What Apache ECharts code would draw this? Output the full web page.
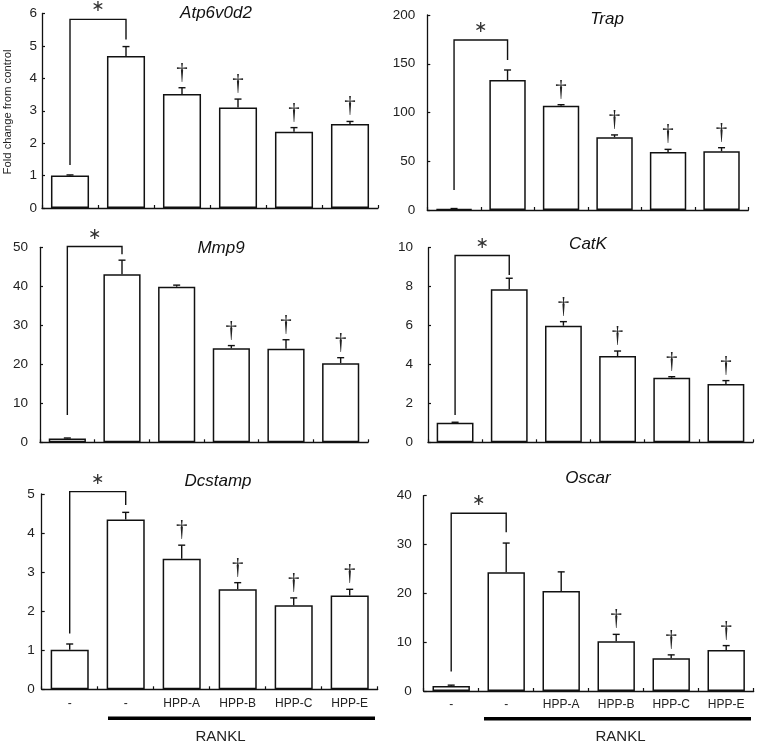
<!DOCTYPE html>
<html><head><meta charset="utf-8">
<script src="https://cdn.jsdelivr.net/npm/echarts@6/dist/echarts.min.js"></script>
<style>html,body{margin:0;padding:0;background:#fff}#c{width:758px;height:743px}</style>
</head><body><div id="c"></div>
<script>
// ---------- data ----------
const categories = ['-', '-', 'HPP-A', 'HPP-B', 'HPP-C', 'HPP-E'];
const genes = ['Atp6v0d2', 'Trap', 'Mmp9', 'CatK', 'Dcstamp', 'Oscar'];

const atpMean = [1.0, 4.69, 3.52, 3.10, 2.35, 2.59];
const atpSD   = [0.02, 0.29, 0.19, 0.26, 0.13, 0.08];
const trapMean = [1.0, 133.3, 107.0, 74.6, 59.5, 60.2];
const trapSD   = [0.5, 10.3, 1.0, 2.4, 2.7, 3.7];
const mmp9Mean = [1.0, 43.1, 39.9, 24.1, 24.0, 20.3];
const mmp9SD   = [0.1, 3.6, 0.4, 0.7, 2.3, 1.4];
const catkMean = [1.0, 7.86, 5.99, 4.43, 3.32, 3.0];
const catkSD   = [0.03, 0.57, 0.21, 0.26, 0.05, 0.17];
const dcMean = [1.01, 4.35, 3.34, 2.56, 2.15, 2.40];
const dcSD   = [0.15, 0.18, 0.35, 0.17, 0.19, 0.16];
const oscMean = [1.0, 24.3, 20.5, 10.2, 6.7, 8.4];
const oscSD   = [0.2, 6.0, 3.9, 1.4, 0.7, 0.9];

// significance vs RANKL alone (dagger)
const atpDagger  = [0, 0, 1, 1, 1, 1];
const trapDagger = [0, 0, 1, 1, 1, 1];
const mmp9Dagger = [0, 0, 0, 1, 1, 1];
const catkDagger = [0, 0, 1, 1, 1, 1];
const dcDagger   = [0, 0, 1, 1, 1, 1];
const oscDagger  = [0, 0, 0, 1, 1, 1];

// y-axis ranges
const yMax  = [6, 200, 50, 10, 5, 40];
const yStep = [1, 50, 10, 2, 1, 10];

// significance bracket (control vs RANKL), data units: [start, top, end]
const bracketAtp  = [1.33, 5.82, 5.2];
const bracketTrap = [20.5, 174.4, 153.8];
const bracketMmp9 = [7, 50.2, 48.2];
const bracketCatk = [1.4, 9.6, 8.6];
const bracketDc   = [1.43, 5.06, 4.72];
const bracketOsc  = [4, 36.4, 32.5];

const panels = [
  {mean: atpMean, sd: atpSD, dag: atpDagger, br: bracketAtp},
  {mean: trapMean, sd: trapSD, dag: trapDagger, br: bracketTrap},
  {mean: mmp9Mean, sd: mmp9SD, dag: mmp9Dagger, br: bracketMmp9},
  {mean: catkMean, sd: catkSD, dag: catkDagger, br: bracketCatk},
  {mean: dcMean, sd: dcSD, dag: dcDagger, br: bracketDc},
  {mean: oscMean, sd: oscSD, dag: oscDagger, br: bracketOsc}
];

// ---------- layout ----------
const grids = [
  {left: 42, top: 13.5, width: 336, height: 194.5},
  {left: 427.3, top: 15, width: 321, height: 195},
  {left: 40, top: 247.3, width: 328, height: 195},
  {left: 428, top: 247.7, width: 325, height: 194.6},
  {left: 41.7, top: 494, width: 336, height: 195.3},
  {left: 423.7, top: 495.7, width: 330, height: 195.3}
];
const labelMargins = [5, 12, 12, 15, 7, 12];
const titlePos = [[216, 13], [607, 19], [221, 248], [588, 244], [218, 481.5], [588, 478]];

const FONT = '"Liberation Sans", Arial, sans-serif';
const INK = '#111';

const option = {
  animation: false,
  backgroundColor: '#fff',
  grid: grids.map(g => Object.assign({containLabel: false}, g)),
  xAxis: grids.map((g, k) => ({
    type: 'category', gridIndex: k, data: categories,
    axisLine: {lineStyle: {color: INK, width: 1.3}},
    axisTick: {show: true, inside: true, length: 3, lineStyle: {color: INK, width: 1.2}},
    axisLabel: {show: k >= 4, color: '#222', fontSize: 12, fontFamily: FONT, margin: 8, interval: 0}
  })),
  yAxis: grids.map((g, k) => ({
    type: 'value', gridIndex: k, min: 0, max: yMax[k], interval: yStep[k],
    splitLine: {show: false},
    axisLine: {show: true, lineStyle: {color: INK, width: 1.3}},
    axisTick: {show: true, inside: true, length: 3, lineStyle: {color: INK, width: 1.2}},
    axisLabel: {color: '#222', fontSize: 13.5, fontFamily: FONT, margin: labelMargins[k]}
  })),
  series: [],
  graphic: []
};

panels.forEach((p, k) => {
  option.series.push({
    type: 'bar', xAxisIndex: k, yAxisIndex: k, data: p.mean, barWidth: '68%',
    itemStyle: {color: '#fff', borderColor: INK, borderWidth: 1.5}
  });
  // error bars (upper only)
  option.series.push({
    type: 'custom', xAxisIndex: k, yAxisIndex: k,
    data: p.mean.map((m, i) => [i, m, m + p.sd[i]]),
    renderItem: (params, api) => {
      const a = api.coord([api.value(0), api.value(1)]);
      const b = api.coord([api.value(0), api.value(2)]);
      const st = {stroke: INK, lineWidth: 1.4};
      return {type: 'group', children: [
        {type: 'line', shape: {x1: a[0], y1: a[1], x2: b[0], y2: b[1]}, style: st},
        {type: 'line', shape: {x1: b[0] - 3.5, y1: b[1], x2: b[0] + 3.5, y2: b[1]}, style: st}
      ]};
    }
  });
  // daggers
  option.series.push({
    type: 'custom', xAxisIndex: k, yAxisIndex: k,
    data: p.mean.map((m, i) => [i, m + p.sd[i], p.dag[i]]).filter(d => d[2]),
    renderItem: (params, api) => {
      const b = api.coord([api.value(0), api.value(1)]);
      return {type: 'text', x: b[0], y: b[1] - 15,
        style: {text: '\u2020', font: '23px "Liberation Serif", serif', fill: '#222',
          align: 'center', verticalAlign: 'middle', textAlign: 'center', textVerticalAlign: 'middle'}};
    }
  });
  // bracket + asterisk
  option.series.push({
    type: 'custom', xAxisIndex: k, yAxisIndex: k,
    data: [[0, p.br[0], p.br[1], p.br[2]]],
    renderItem: (params, api) => {
      const s = api.coord([0, api.value(1)]);
      const t0 = api.coord([0, api.value(2)]);
      const t1 = api.coord([1, api.value(2)]);
      const e = api.coord([1, api.value(3)]);
      return {type: 'group', children: [
        {type: 'polyline', shape: {points: [s, t0, t1, e]}, style: {stroke: INK, lineWidth: 1.4, fill: null}},
        {type: 'text', x: (t0[0] + t1[0]) / 2, y: t0[1] - 12,
          style: {text: '\u2217', font: '16px "DejaVu Sans", sans-serif', fill: '#333',
            align: 'center', verticalAlign: 'middle', textAlign: 'center', textVerticalAlign: 'middle'}}
      ]};
    }
  });
  option.graphic.push({type: 'text', x: titlePos[k][0], y: titlePos[k][1],
    style: {text: genes[k], font: 'italic 17px ' + FONT, fill: INK,
      align: 'center', verticalAlign: 'middle', textAlign: 'center', textVerticalAlign: 'middle'}});
});

// y-axis name
option.graphic.push({type: 'text', x: 8, y: 112, rotation: Math.PI / 2,
  style: {text: 'Fold change from control', font: '11.3px ' + FONT, fill: '#222',
    align: 'center', verticalAlign: 'middle', textAlign: 'center', textVerticalAlign: 'middle'}});
// RANKL bars and labels
option.graphic.push({type: 'rect', shape: {x: 108, y: 716.5, width: 267, height: 3.5}, style: {fill: '#000'}});
option.graphic.push({type: 'rect', shape: {x: 484, y: 717, width: 267, height: 3.5}, style: {fill: '#000'}});
option.graphic.push({type: 'text', x: 220.5, y: 736.5,
  style: {text: 'RANKL', font: '15px ' + FONT, fill: '#222', align: 'center', verticalAlign: 'middle', textAlign: 'center', textVerticalAlign: 'middle'}});
option.graphic.push({type: 'text', x: 620.5, y: 736.5,
  style: {text: 'RANKL', font: '15px ' + FONT, fill: '#222', align: 'center', verticalAlign: 'middle', textAlign: 'center', textVerticalAlign: 'middle'}});

const chart = echarts.init(document.getElementById('c'), null, {renderer: 'canvas'});
chart.setOption(option);
</script>
</body></html>
